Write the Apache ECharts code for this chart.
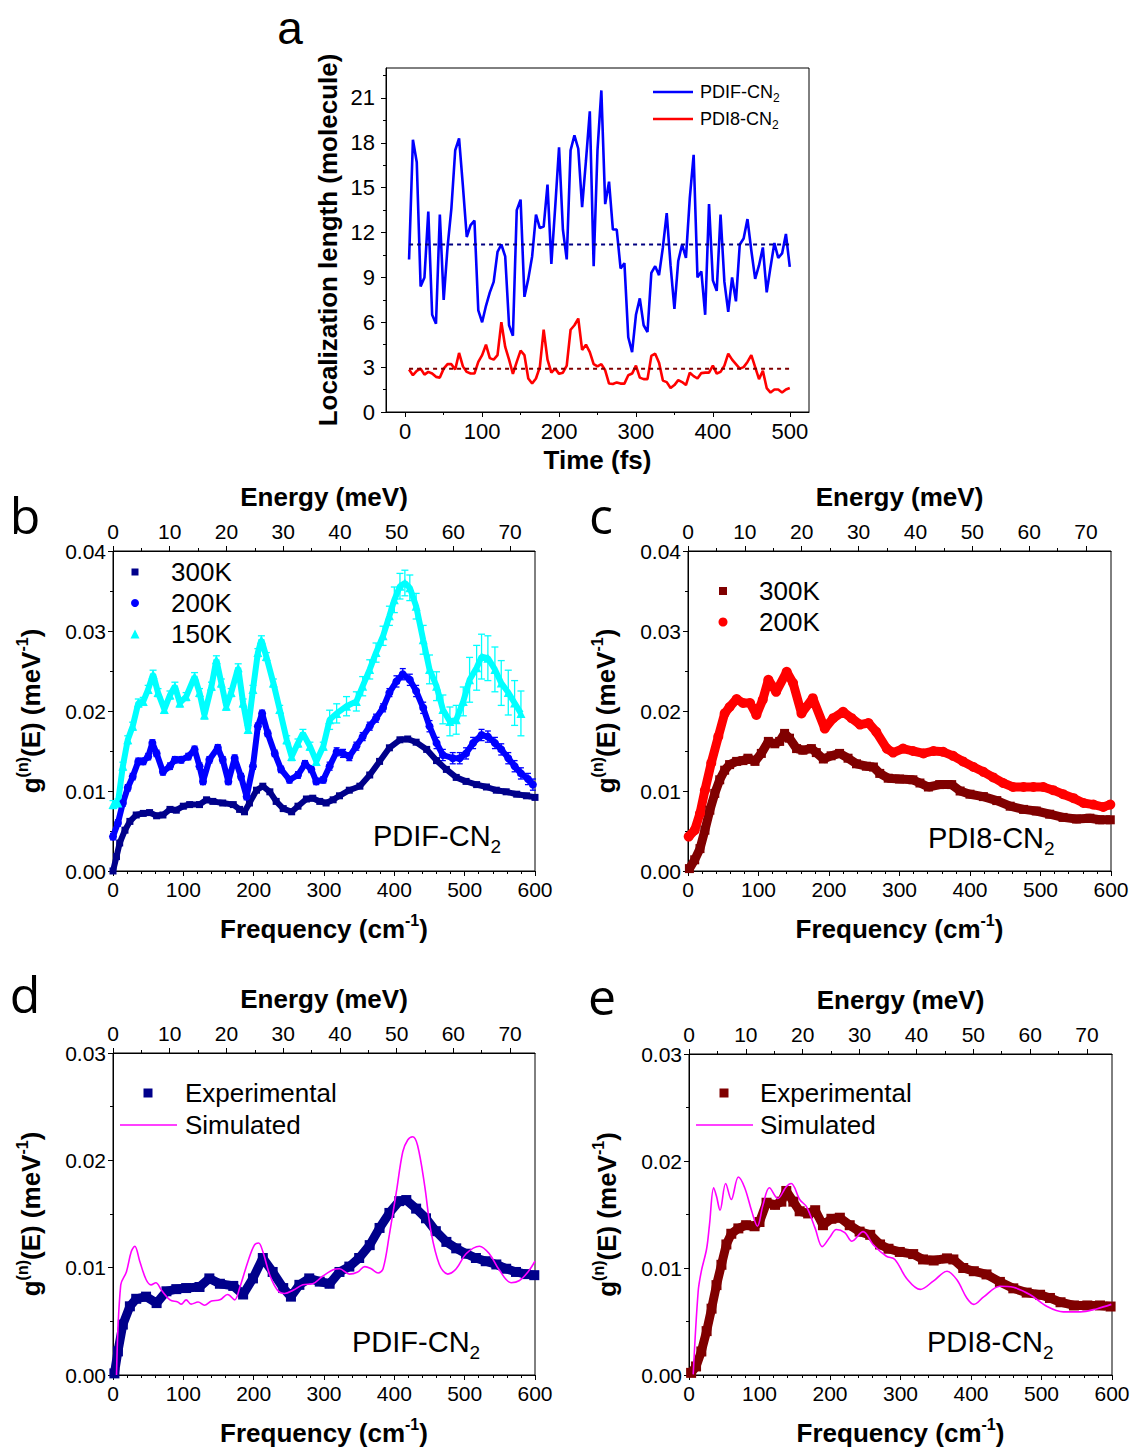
<!DOCTYPE html>
<html><head><meta charset="utf-8">
<script src="https://cdn.jsdelivr.net/npm/echarts@6/dist/echarts.min.js"></script>
<style>html,body{margin:0;padding:0;background:#fff}#chart{width:1130px;height:1447px}</style>
</head><body><div id="chart"></div>
<script>
// ---------- Panel a: localization length vs time ----------
const timeFs = [5,10,15,20,25,30,35,40,45,50,55,60,65,70,75,80,85,90,95,100,105,110,115,120,125,130,135,140,145,150,155,160,165,170,175,180,185,190,195,200,205,210,215,220,225,230,235,240,245,250,255,260,265,270,275,280,285,290,295,300,305,310,315,320,325,330,335,340,345,350,355,360,365,370,375,380,385,390,395,400,405,410,415,420,425,430,435,440,445,450,455,460,465,470,475,480,485,490,495,500];
const locPDIF = [10.2,18.2,16.7,8.4,9.0,13.4,6.5,5.9,13.2,7.5,
  11.0,13.6,17.5,18.3,15.1,11.7,12.5,12.8,6.8,6.0,
  7.1,8.0,8.7,10.7,11.2,10.4,5.8,5.1,13.5,14.2,
  7.7,8.9,10.4,13.2,12.3,12.4,15.2,9.9,13.7,17.7,
  12.2,10.2,17.5,18.5,17.6,13.7,16.8,20.1,9.75,17.5,
  21.5,13.9,15.4,12.2,12.2,9.6,9.95,5.0,4.0,6.5,
  7.6,5.8,5.35,9.3,9.75,9.15,11.0,13.3,9.8,6.9,
  10.1,11.2,10.3,14.3,17.2,9.0,9.4,6.5,13.9,8.8,
  8.1,13.2,8.7,6.7,9.0,7.4,11.2,11.6,12.9,10.8,
  8.9,9.8,11.0,8.0,9.7,11.3,10.3,10.6,11.9,9.7];
const locPDI8 = [2.84,2.46,2.75,2.9,2.5,2.68,2.57,2.35,2.3,2.9,
  3.2,3.2,2.84,3.95,3.05,2.68,2.57,2.57,3.35,3.8,
  4.5,3.6,3.5,3.8,6.0,4.35,3.5,2.55,3.35,4.1,
  3.8,2.24,1.9,2.24,3.0,5.5,3.5,2.63,2.9,2.55,
  2.63,3.1,5.5,5.8,6.25,4.15,4.5,4.0,3.2,3.05,
  3.2,2.79,1.9,1.87,1.98,1.9,1.9,2.46,2.57,3.1,
  2.3,2.2,2.2,3.75,3.9,3.3,2.1,2.0,1.6,1.8,
  2.13,2.0,1.8,2.63,2.4,2.24,2.6,2.63,2.63,3.1,
  2.57,2.68,3.1,3.9,3.5,3.2,2.9,3.0,3.35,3.8,
  3.0,2.2,2.75,1.6,1.3,1.5,1.5,1.3,1.5,1.6];
const avgPDIF = 11.2;
const avgPDI8 = 2.9;
const timeTicks = [0,100,200,300,400,500];
const timeMinorTicks = [50,150,250,350,450];
const locTicks = [0,3,6,9,12,15,18,21];
const locMinorTicks = [1.5,4.5,7.5,10.5,13.5,16.5,19.5,22.5];

// ---------- Panels b-e: frequency / energy axes ----------
const freqTicks = [0,100,200,300,400,500,600];
const freqMinorTicks = [20,40,60,80,120,140,160,180,220,240,260,280,320,340,360,380,420,440,460,480,520,540,560,580];
const energyTicks = [0,10,20,30,40,50,60,70];
const energyMinorTicks = [5,15,25,35,45,55,65];
const meVperCm = 0.123984;
const gTicks4 = [0,0.01,0.02,0.03,0.04];
const gMinor4 = [0.005,0.015,0.025,0.035];
const gTicks3 = [0,0.01,0.02,0.03];
const gMinor3 = [0.005,0.015,0.025];

// Panel b: PDIF-CN2 at three temperatures  [freq, g]  / [freq, g, err]
const b300K = [[0,0],[5,0.0018],[9.5,0.0035],[17,0.0051],[24,0.0062],[33,0.0070],[43,0.0072],[52,0.0073],[62,0.0069],[71,0.0070],[81,0.0077],[90,0.0076],[100,0.0081],[109,0.0083],[123,0.0083],[133,0.0089],[142,0.0087],[156,0.0085],[171,0.0083],[180,0.0077],[187,0.0074],[194,0.0085],[204,0.0101],[213,0.0106],[223,0.0099],[232,0.0087],[242,0.0078],[254,0.0074],[263,0.0081],[275,0.0090],[284,0.0091],[294,0.0087],[303,0.0085],[313,0.0089],[322,0.0094],[336,0.0101],[351,0.0106],[365,0.0120],[379,0.0137],[393,0.0154],[408,0.0164],[419,0.0165],[431,0.0161],[446,0.0152],[460,0.0138],[474,0.0127],[488,0.0117],[502,0.0112],[517,0.0108],[531,0.0105],[545,0.0101],[559,0.0099],[574,0.0096],[588,0.0094],[600,0.0092]];
const b200K = [[0,0.0043,0.0004],[7,0.0060,0.0004],[14,0.0085,0.0004],[21,0.0104,0.0004],[28,0.0118,0.0004],[36,0.0137,0.0004],[43,0.0137,0.0004],[50,0.0143,0.0004],[56,0.0160,0.0004],[62,0.0147,0.0004],[71,0.0124,0.0004],[81,0.0131,0.0004],[88,0.0139,0.0004],[97,0.0139,0.0004],[107,0.0143,0.0004],[116,0.0152,0.0004],[123,0.0131,0.0004],[128,0.0112,0.0004],[137,0.0139,0.0004],[149,0.0154,0.0004],[156,0.0139,0.0004],[164,0.0112,0.0004],[173,0.0141,0.0004],[182,0.0118,0.0004],[190,0.0093,0.0004],[199,0.0131,0.0004],[206,0.0181,0.0004],[212,0.0197,0.0004],[220,0.0172,0.0004],[230,0.0147,0.0004],[239,0.0127,0.0004],[251,0.0114,0.0004],[263,0.0120,0.0004],[273,0.0134,0.0004],[282,0.0127,0.0004],[289,0.0112,0.0004],[299,0.0114,0.0004],[308,0.0131,0.0005],[318,0.0149,0.0005],[327,0.0147,0.0005],[336,0.0143,0.0005],[346,0.0156,0.0005],[355,0.0168,0.0005],[365,0.0181,0.0005],[374,0.0191,0.0005],[384,0.0204,0.0005],[393,0.0223,0.0005],[403,0.0237,0.0007],[412,0.0246,0.0007],[422,0.0239,0.0007],[431,0.0225,0.0007],[441,0.0204,0.0007],[450,0.0181,0.0007],[460,0.0160,0.0007],[469,0.0145,0.0007],[483,0.0141,0.0007],[493,0.0141,0.0007],[502,0.0147,0.0007],[512,0.0160,0.0007],[524,0.0170,0.0007],[533,0.0168,0.0007],[543,0.0160,0.0007],[552,0.0152,0.0007],[562,0.0141,0.0007],[571,0.0131,0.0007],[580,0.0122,0.0007],[590,0.0115,0.0007],[597,0.0108,0.0007]];
const b150K = [[0,0.0083,0.0005],[7,0.0085,0.0005],[14,0.0131,0.0005],[21,0.0164,0.0005],[28,0.0181,0.0005],[36,0.0210,0.0005],[43,0.0212,0.0005],[50,0.0227,0.0005],[57,0.0246,0.0005],[64,0.0223,0.0005],[73,0.0202,0.0005],[81,0.0220,0.0005],[88,0.0231,0.0005],[95,0.0210,0.0005],[104,0.0218,0.0005],[116,0.0243,0.0005],[123,0.0223,0.0005],[130,0.0195,0.0005],[140,0.0231,0.0005],[147,0.0264,0.0005],[154,0.0235,0.0005],[161,0.0206,0.0005],[168,0.0223,0.0005],[178,0.0254,0.0005],[185,0.0210,0.0005],[192,0.0177,0.0005],[199,0.0227,0.0005],[206,0.0273,0.0005],[211,0.0289,0.0005],[218,0.0268,0.0005],[228,0.0235,0.0005],[237,0.0202,0.0005],[247,0.0164,0.0005],[254,0.0143,0.0005],[263,0.0160,0.0005],[270,0.0172,0.0005],[280,0.0156,0.0005],[289,0.0137,0.0005],[299,0.0156,0.0005],[308,0.0189,0.0012],[318,0.0197,0.0012],[332,0.0206,0.0012],[346,0.0212,0.0012],[355,0.0231,0.0012],[365,0.0252,0.0012],[374,0.0273,0.0012],[384,0.0294,0.0012],[393,0.0319,0.0012],[400,0.0339,0.0016],[408,0.0356,0.0016],[415,0.0360,0.0016],[422,0.0354,0.0016],[431,0.0331,0.0016],[441,0.0289,0.0018],[450,0.0252,0.0018],[460,0.0231,0.0018],[469,0.0202,0.0018],[479,0.0187,0.0018],[488,0.0189,0.0018],[498,0.0212,0.0018],[507,0.0239,0.0028],[517,0.0254,0.0028],[524,0.0268,0.0028],[533,0.0266,0.0028],[543,0.0252,0.0028],[552,0.0235,0.0028],[562,0.0223,0.0028],[571,0.0210,0.0028],[580,0.0197,0.0028]];

// Panel c: PDI8-CN2 at two temperatures
const c300K = [[2,0.0003],[9.5,0.0014],[17,0.0028],[24,0.0051],[31,0.0076],[38,0.0097],[45,0.0114],[52,0.0126],[59,0.0133],[69,0.0137],[78,0.0138],[85,0.0141],[95,0.0137],[104,0.0147],[114,0.0162],[123,0.0159],[130,0.0162],[137,0.0172],[144,0.0166],[154,0.0153],[163,0.0151],[175,0.0153],[182,0.0148],[192,0.0140],[203,0.0144],[215,0.0147],[227,0.0141],[239,0.0134],[253,0.0131],[263,0.0130],[272,0.0122],[284,0.0116],[300,0.0115],[319,0.0114],[329,0.0110],[341,0.0105],[357,0.0108],[374,0.0108],[386,0.0100],[400,0.0096],[419,0.0093],[438,0.0088],[457,0.0081],[476,0.0077],[494,0.0075],[513,0.0071],[532,0.0067],[551,0.0065],[570,0.0066],[584,0.0064],[599,0.0064]];
const c200K = [[1,0.0043],[9.5,0.0051],[17,0.0072],[24,0.0101],[33,0.0135],[43,0.0168],[52,0.0197],[59,0.0205],[69,0.0215],[78,0.0210],[88,0.0210],[97,0.0195],[106,0.0214],[114,0.0239],[125,0.0224],[140,0.0249],[149,0.0235],[161,0.0197],[177,0.0216],[194,0.0178],[206,0.0191],[220,0.0199],[232,0.0191],[244,0.0183],[256,0.0185],[267,0.0174],[282,0.0153],[291,0.0148],[305,0.0153],[319,0.0150],[334,0.0147],[348,0.0150],[362,0.0149],[376,0.0144],[390,0.0137],[405,0.0130],[419,0.0124],[433,0.0117],[447,0.0110],[461,0.0105],[476,0.0105],[490,0.0105],[504,0.0105],[518,0.0101],[532,0.0096],[547,0.0091],[561,0.0085],[575,0.0083],[589,0.0080],[599,0.0083]];

// Panel d: PDIF-CN2 experimental vs simulated
const dExp = [[2,0.00015],[7,0.0022],[14,0.0047],[24,0.0064],[33,0.0071],[47,0.0073],[62,0.0067],[76,0.0078],[90,0.0080],[104,0.0081],[123,0.0082],[137,0.0090],[152,0.0085],[171,0.0083],[185,0.0075],[199,0.0090],[213,0.0109],[227,0.0096],[242,0.0081],[253,0.0073],[265,0.0084],[279,0.0090],[294,0.0087],[308,0.0085],[322,0.0096],[336,0.0101],[350,0.0109],[365,0.0121],[379,0.0137],[393,0.0151],[407,0.0162],[417,0.0163],[431,0.0155],[445,0.0146],[459,0.0134],[474,0.0124],[488,0.0118],[502,0.0113],[516,0.0109],[530,0.0106],[545,0.0103],[559,0.0099],[573,0.0096],[587,0.0094],[599,0.0093]];
const dSim = [[5,0],[11,0.0084],[19,0.0096],[26,0.0115],[31,0.0120],[38,0.0106],[47,0.0089],[54,0.0084],[61,0.0086],[69,0.0079],[81,0.0070],[92,0.0068],[97,0.0066],[104,0.0070],[111,0.0066],[121,0.0068],[130,0.0065],[140,0.0069],[152,0.0070],[163,0.0075],[173,0.0070],[180,0.0081],[192,0.0106],[201,0.0121],[207,0.0123],[213,0.0115],[223,0.0093],[234,0.0079],[244,0.0076],[256,0.0079],[270,0.0084],[284,0.0085],[298,0.0092],[313,0.0098],[322,0.0099],[336,0.0094],[348,0.0096],[358,0.0101],[367,0.0099],[377,0.0095],[384,0.0099],[393,0.0131],[403,0.0171],[412,0.0208],[419,0.0219],[426,0.0222],[433,0.0214],[443,0.0177],[452,0.0134],[464,0.0103],[476,0.0094],[488,0.0099],[502,0.0113],[521,0.0120],[535,0.0113],[549,0.0098],[566,0.0086],[578,0.0088],[590,0.0096],[600,0.0106]];

// Panel e: PDI8-CN2 experimental vs simulated
const eExp = [[3,0.0002],[10,0.0008],[17.5,0.0022],[25,0.0041],[32,0.0062],[39,0.0084],[46,0.0103],[53,0.0122],[60,0.0132],[70,0.0137],[81,0.0140],[93,0.0139],[100,0.0143],[110,0.0161],[122,0.0159],[131,0.0162],[138,0.0172],[148,0.0162],[157,0.0153],[169,0.0151],[179,0.0154],[190,0.0140],[202,0.0146],[214,0.0147],[228,0.0140],[242,0.0134],[257,0.0131],[271,0.0122],[283,0.0118],[299,0.0115],[318,0.0113],[332,0.0108],[347,0.0107],[366,0.0109],[375,0.0108],[389,0.0100],[404,0.0097],[422,0.0094],[441,0.0087],[460,0.0081],[479,0.0077],[498,0.0075],[512,0.0072],[527,0.0068],[546,0.0065],[565,0.0065],[583,0.0065],[598,0.0064]];
const eSim = [[6,0.00006],[13,0.0078],[17.5,0.0097],[25,0.0118],[29,0.0140],[35,0.0175],[39,0.0167],[44,0.0154],[52,0.0179],[60,0.0164],[70,0.0185],[79,0.0175],[89,0.0153],[97,0.0139],[105,0.0159],[114,0.0175],[126,0.0165],[138,0.0176],[145,0.0179],[157,0.0164],[167,0.0157],[179,0.0137],[189,0.0120],[200,0.0129],[209,0.0136],[221,0.0133],[231,0.0125],[247,0.0134],[261,0.0122],[280,0.0111],[292,0.0108],[309,0.0090],[328,0.0080],[347,0.0088],[366,0.0097],[380,0.0089],[394,0.0072],[404,0.0066],[418,0.0073],[441,0.0083],[460,0.0082],[484,0.0075],[508,0.0064],[531,0.0059],[555,0.0059],[579,0.0062],[599,0.0066]];

// ---------- styling ----------
const FONT = '"Liberation Sans", Arial, sans-serif';
const NAVY = '#00008b', BLUE = '#0000ff', CYAN = '#00ffff', MAROON = '#800000', RED = '#ff0000', MAGENTA = '#ff00ff';

const nameRich = {
  n: {fontSize: 26, fontWeight: 'bold', fontFamily: FONT, color: '#000', lineHeight: 33, verticalAlign: 'middle'},
  s: {fontSize: 16, fontWeight: 'bold', fontFamily: FONT, color: '#000', lineHeight: 16, verticalAlign: 'top'}
};
const nameStyle = {fontSize: 26, fontWeight: 'bold', fontFamily: FONT, color: '#000', rich: nameRich};

const xAxes = [], yAxes = [];
function addAxis(list, o) {
  list.push({
    type: 'value', gridIndex: o.grid, position: o.pos, min: o.min, max: o.max,
    axisLine: {show: true, onZero: false, lineStyle: {color: '#000', width: 1}},
    axisTick: {show: true, length: 5, customValues: o.majors, lineStyle: {color: '#000', width: 1}},
    axisLabel: {show: true, customValues: o.majors, formatter: o.fmt, color: '#000', fontSize: o.fs, fontFamily: FONT, margin: o.margin},
    splitLine: {show: false}, minorTick: {show: false},
    name: o.name, nameLocation: 'middle', nameGap: o.nameGap, nameTextStyle: nameStyle
  });
  const idx = list.length - 1;
  list.push({
    type: 'value', gridIndex: o.grid, position: o.pos, min: o.min, max: o.max,
    axisLine: {show: false, onZero: false},
    axisTick: {show: true, length: 3, customValues: o.minors, lineStyle: {color: '#000', width: 1}},
    axisLabel: {show: false}, splitLine: {show: false}
  });
  return idx;
}
const fmtInt = v => String(v);
const fmt2 = v => v.toFixed(2);

const grids = [
  {left: 386, top: 68, width: 423, height: 344},
  {left: 113, top: 551, width: 422, height: 320},
  {left: 688, top: 551, width: 423, height: 320},
  {left: 113, top: 1053, width: 422, height: 322},
  {left: 689, top: 1054, width: 423, height: 321}
].map(g => Object.assign({show: true, borderColor: '#000', borderWidth: 1, backgroundColor: 'transparent', containLabel: false, outerBoundsMode: 'none'}, g));

// panel a axes
const axA = addAxis(xAxes, {grid: 0, pos: 'bottom', min: -25, max: 525, majors: timeTicks, minors: timeMinorTicks, fmt: fmtInt, fs: 22, margin: 8, name: 'Time (fs)', nameGap: 35});
const ayA = addAxis(yAxes, {grid: 0, pos: 'left', min: 0, max: 23, majors: locTicks, minors: locMinorTicks, fmt: fmtInt, fs: 22, margin: 11, name: 'Localization length (molecule)', nameGap: 45});

// panels b-e axes
const freqName = '{n|Frequency (cm}{s|-1}{n|)}';
const gName = '{n|g}{s|(n)}{n|(E) (meV}{s|-1}{n|)}';
const spec = [
  {grid: 1, yMax: 0.04, yT: gTicks4, yM: gMinor4},
  {grid: 2, yMax: 0.04, yT: gTicks4, yM: gMinor4},
  {grid: 3, yMax: 0.03, yT: gTicks3, yM: gMinor3},
  {grid: 4, yMax: 0.03, yT: gTicks3, yM: gMinor3}
];
const panelAx = spec.map(s => {
  const fx = addAxis(xAxes, {grid: s.grid, pos: 'bottom', min: 0, max: 600, majors: freqTicks, minors: freqMinorTicks, fmt: fmtInt, fs: 21, margin: 8, name: freqName, nameGap: 41});
  addAxis(xAxes, {grid: s.grid, pos: 'top', min: 0, max: 600 * meVperCm, majors: energyTicks, minors: energyMinorTicks, fmt: fmtInt, fs: 21, margin: 9, name: 'Energy (meV)', nameGap: 41});
  const gy = addAxis(yAxes, {grid: s.grid, pos: 'left', min: 0, max: s.yMax, majors: s.yT, minors: s.yM, fmt: fmt2, fs: 21, margin: 7, name: gName, nameGap: 66});
  return {x: fx, y: gy};
});

function markers(name, pts, color, symbol, size, lw, ax) {
  return {type: 'line', name, xAxisIndex: ax.x, yAxisIndex: ax.y, data: pts.map(p => [p[0], p[1]]),
    symbol, symbolSize: size, showSymbol: true, itemStyle: {color}, lineStyle: {color, width: lw}, z: 2};
}
function errBars(name, pts, color, cap, ax) {
  return {type: 'custom', name, xAxisIndex: ax.x, yAxisIndex: ax.y, z: 2, silent: true,
    data: pts.map(p => [p[0], p[1] - p[2], p[1] + p[2]]),
    renderItem(params, api) {
      const lo = api.coord([api.value(0), api.value(1)]);
      const hi = api.coord([api.value(0), api.value(2)]);
      const st = {stroke: color, lineWidth: 1.3};
      return {type: 'group', children: [
        {type: 'line', shape: {x1: lo[0], y1: lo[1], x2: hi[0], y2: hi[1]}, style: st},
        {type: 'line', shape: {x1: lo[0] - cap, y1: lo[1], x2: lo[0] + cap, y2: lo[1]}, style: st},
        {type: 'line', shape: {x1: hi[0] - cap, y1: hi[1], x2: hi[0] + cap, y2: hi[1]}, style: st}
      ]};
    }};
}
function simLine(name, pts, ax) {
  return {type: 'line', name, xAxisIndex: ax.x, yAxisIndex: ax.y, data: pts, smooth: 0.35, showSymbol: false,
    lineStyle: {color: MAGENTA, width: 1.6}, itemStyle: {color: MAGENTA}, z: 4};
}

const [axB, axC, axD, axE] = panelAx;
const series = [
  {type: 'line', name: 'PDIF-CN2', xAxisIndex: axA, yAxisIndex: ayA, data: timeFs.map((t, i) => [t, locPDIF[i]]), showSymbol: false, lineStyle: {color: BLUE, width: 2.6}, itemStyle: {color: BLUE}},
  {type: 'line', name: 'PDI8-CN2', xAxisIndex: axA, yAxisIndex: ayA, data: timeFs.map((t, i) => [t, locPDI8[i]]), showSymbol: false, lineStyle: {color: RED, width: 2.6}, itemStyle: {color: RED}},
  {type: 'line', name: 'PDIF-CN2 mean', xAxisIndex: axA, yAxisIndex: ayA, data: [[timeFs[0], avgPDIF], [timeFs[timeFs.length - 1], avgPDIF]], showSymbol: false, z: 5, lineStyle: {color: '#000080', width: 2, type: [4, 4]}},
  {type: 'line', name: 'PDI8-CN2 mean', xAxisIndex: axA, yAxisIndex: ayA, data: [[timeFs[0], avgPDI8], [timeFs[timeFs.length - 1], avgPDI8]], showSymbol: false, z: 5, lineStyle: {color: '#800000', width: 2, type: [4, 4]}},
  markers('300K', b300K, NAVY, 'rect', 7, 6, axB),
  markers('200K', b200K, BLUE, 'circle', 8, 6, axB),
  errBars('200K err', b200K, BLUE, 3, axB),
  markers('150K', b150K, CYAN, 'triangle', 9, 6, axB),
  errBars('150K err', b150K, CYAN, 3.5, axB),
  markers('300K c', c300K, MAROON, 'rect', 9, 9, axC),
  markers('200K c', c200K, RED, 'circle', 10, 9, axC),
  markers('Experimental d', dExp, NAVY, 'rect', 10, 9, axD),
  simLine('Simulated d', dSim, axD),
  markers('Experimental e', eExp, MAROON, 'rect', 10, 9, axE),
  simLine('Simulated e', eSim, axE)
];

// ---------- legends, panel letters, sample labels ----------
function txt(x, y, text, size, extra) {
  return Object.assign({type: 'text', x, y, silent: true,
    style: {text, fill: '#000', font: size + 'px ' + FONT, align: 'left', verticalAlign: 'middle'}}, extra || {});
}
function subTxt(x, y, main, sub, size, subSize, lh) {
  return {type: 'text', x, y, silent: true, style: {
    text: '{n|' + main + '}{s|' + sub + '}', align: 'left', verticalAlign: 'middle',
    rich: {
      n: {fontSize: size, fontFamily: FONT, fill: '#000', lineHeight: lh, verticalAlign: 'middle'},
      s: {fontSize: subSize, fontFamily: FONT, fill: '#000', lineHeight: subSize, verticalAlign: 'bottom'}
    }}};
}
function letter(x, y, t, font) {
  return {type: 'text', x, y, silent: true, style: {text: t, fill: '#000', font: font || '50px "Open Sans", sans-serif', align: 'center', verticalAlign: 'middle'}};
}
function sq(cx, cy, s, color) { return {type: 'rect', silent: true, shape: {x: cx - s / 2, y: cy - s / 2, width: s, height: s}, style: {fill: color}}; }
function dot(cx, cy, r, color) { return {type: 'circle', silent: true, shape: {cx, cy, r}, style: {fill: color}}; }
function tri(cx, cy, s, color) { return {type: 'polygon', silent: true, shape: {points: [[cx, cy - s / 2], [cx + s / 2, cy + s / 2], [cx - s / 2, cy + s / 2]]}, style: {fill: color}}; }
function seg(x1, x2, y, color, w) { return {type: 'line', silent: true, shape: {x1, y1: y, x2, y2: y}, style: {stroke: color, lineWidth: w}}; }

const graphics = [
  letter(290, 28, 'a', '46px "Liberation Sans", sans-serif'),
  letter(25, 515, 'b'), letter(601, 515, 'c'), letter(25, 994, 'd'), letter(602, 996, 'e'),
  // legend a
  seg(653, 693, 92, BLUE, 2.6), subTxt(700, 92, 'PDIF-CN', '2', 18, 12, 24),
  seg(653, 693, 119, RED, 2.6), subTxt(700, 119, 'PDI8-CN', '2', 18, 12, 24),
  // legend b
  sq(135, 572, 7, NAVY), txt(171, 572, '300K', 26),
  dot(135, 603, 4, BLUE), txt(171, 603, '200K', 26),
  tri(135, 634, 9, CYAN), txt(171, 634, '150K', 26),
  subTxt(373, 836, 'PDIF-CN', '2', 29, 19, 40),
  // legend c
  sq(723, 591, 8, MAROON), txt(759, 591, '300K', 26),
  dot(723, 622, 4.5, RED), txt(759, 622, '200K', 26),
  subTxt(928, 838, 'PDI8-CN', '2', 29, 19, 40),
  // legend d
  sq(148, 1093, 9, NAVY), txt(185, 1093, 'Experimental', 26),
  seg(120, 177, 1125, MAGENTA, 1.6), txt(185, 1125, 'Simulated', 26),
  subTxt(352, 1342, 'PDIF-CN', '2', 29, 19, 40),
  // legend e
  sq(724, 1093, 9, MAROON), txt(760, 1093, 'Experimental', 26),
  seg(696, 753, 1125, MAGENTA, 1.6), txt(760, 1125, 'Simulated', 26),
  subTxt(927, 1342, 'PDI8-CN', '2', 29, 19, 40)
];

const chart = echarts.init(document.getElementById('chart'), null, {renderer: 'svg', width: 1130, height: 1447});
chart.setOption({
  animation: false,
  backgroundColor: '#fff',
  grid: grids,
  xAxis: xAxes,
  yAxis: yAxes,
  series,
  graphic: graphics
});
</script>
</body></html>
